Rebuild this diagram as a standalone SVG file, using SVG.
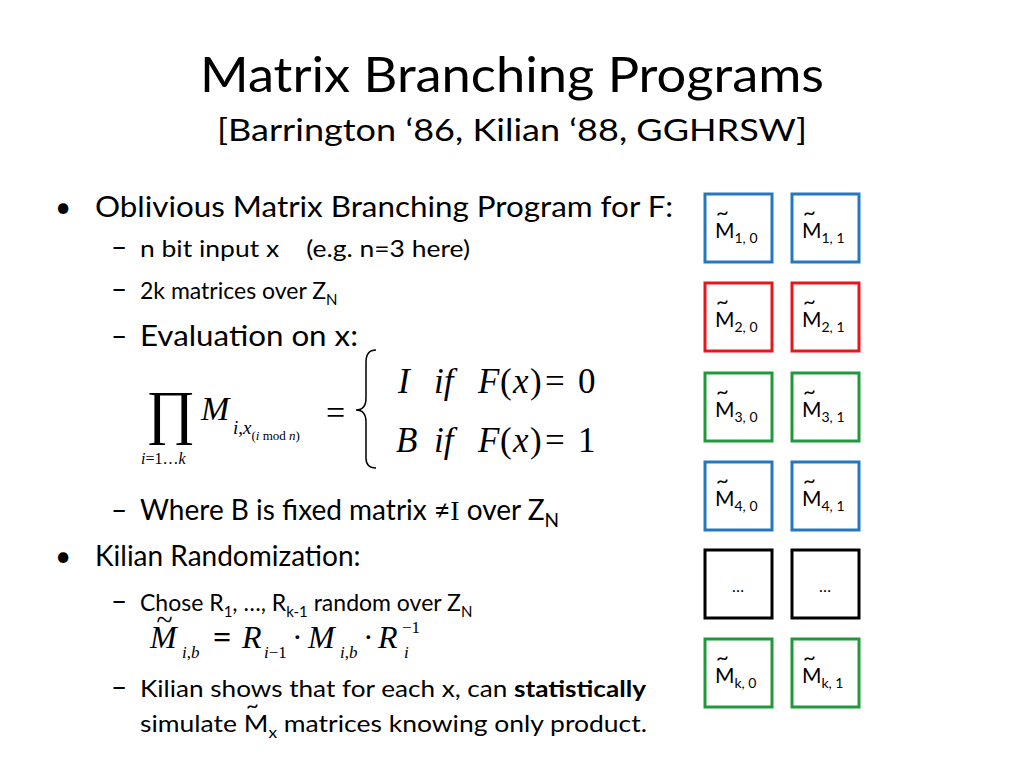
<svg xmlns="http://www.w3.org/2000/svg" width="1024" height="768" viewBox="0 0 1024 768">
<style>
text{font-family:Lato,"Liberation Sans",sans-serif;fill:#000}
.b{font-size:28px}
.s{font-size:23px}
.m{font-family:"Liberation Serif",serif;font-style:italic}
.r{font-family:"Liberation Serif",serif}
.bx{fill:#fff;stroke-width:3}
.lb{font-size:21px}
.sub{font-size:14px}
.t{font-size:22px}
</style>
<rect width="1024" height="768" fill="#fff"/>
<text x="512" y="92" font-size="48" text-anchor="middle" textLength="624" lengthAdjust="spacingAndGlyphs">Matrix Branching Programs</text>
<text x="512" y="141" font-size="31" text-anchor="middle" textLength="590" lengthAdjust="spacingAndGlyphs">[Barrington ‘86, Kilian ‘88, GGHRSW]</text>

<text x="55" y="217" class="b">•</text>
<text x="95" y="217" class="b" textLength="578" lengthAdjust="spacingAndGlyphs">Oblivious Matrix Branching Program for F:</text>
<text x="111" y="257" class="b">–</text>
<text x="140" y="257" class="s" textLength="330" lengthAdjust="spacingAndGlyphs" xml:space="preserve">n bit input x    (e.g. n=3 here)</text>
<text x="111" y="299" class="b">–</text>
<text x="140" y="299" class="s">2k matrices over Z<tspan font-size="15" dy="6">N</tspan></text>
<text x="111" y="346" class="b">–</text>
<text x="140" y="346" class="b" textLength="218" lengthAdjust="spacingAndGlyphs">Evaluation on x:</text>

<text x="146" y="432" class="r" font-size="60">∏</text>
<text x="141" y="464" class="m" font-size="16">i<tspan class="r" font-style="normal">=1…</tspan>k</text>
<text x="201" y="420" class="m" font-size="34">M</text>
<text x="233" y="434" class="m" font-size="19">i<tspan class="r" font-style="normal">,</tspan>x<tspan font-size="13" dy="6" class="r" font-style="normal">(</tspan><tspan font-size="13">i</tspan><tspan font-size="13" class="r" font-style="normal" xml:space="preserve"> mod </tspan><tspan font-size="13">n</tspan><tspan font-size="13" class="r" font-style="normal">)</tspan></text>
<text x="326" y="424" class="r" font-size="34">=</text>
<path d="M376 350 Q366 350 366 362 L366 398 Q366 410 356 410 Q366 410 366 422 L366 458 Q366 468 376 468" fill="none" stroke="#000" stroke-width="1.5"/>
<g font-size="35">
<text x="398" y="393" class="m">I</text><text x="434" y="393" class="m">if</text><text x="478" y="393" class="m">F</text><text x="500" y="393" class="r">(</text><text x="513" y="393" class="m">x</text><text x="530" y="393" class="r">)</text><text x="545" y="393" class="r">=</text><text x="578" y="393" class="r">0</text>
<text x="396" y="452" class="m">B</text><text x="434" y="452" class="m">if</text><text x="478" y="452" class="m">F</text><text x="500" y="452" class="r">(</text><text x="513" y="452" class="m">x</text><text x="530" y="452" class="r">)</text><text x="545" y="452" class="r">=</text><text x="578" y="452" class="r">1</text>
</g>

<text x="111" y="520" class="b">–</text>
<text x="140" y="520" class="b">Where B is fixed matrix ≠<tspan class="r">I</tspan> over Z<tspan font-size="19" dy="7">N</tspan></text>
<text x="55" y="566" class="b">•</text>
<text x="95" y="566" class="b">Kilian Randomization:</text>
<text x="111" y="611" class="b">–</text>
<text x="140" y="611" class="s">Chose R<tspan font-size="15" dy="6">1</tspan><tspan dy="-6">, …, R</tspan><tspan font-size="15" dy="6">k-1</tspan><tspan dy="-6"> random over Z</tspan><tspan font-size="15" dy="6">N</tspan></text>
<text x="156" y="630" class="m" font-size="30">~</text>
<text x="150" y="648" class="m" font-size="32">M</text>
<text x="182" y="658" class="m" font-size="17">i<tspan class="r" font-style="normal">,</tspan>b</text>
<text x="213" y="648" class="r" font-size="32" font-weight="bold">=</text>
<text x="242" y="648" class="m" font-size="32">R</text>
<text x="264" y="658" class="m" font-size="17">i<tspan class="r" font-style="normal">−1</tspan></text>
<text x="292" y="648" class="r" font-size="32">·</text>
<text x="308" y="648" class="m" font-size="32">M</text>
<text x="340" y="658" class="m" font-size="17">i<tspan class="r" font-style="normal">,</tspan>b</text>
<text x="363" y="648" class="r" font-size="32">·</text>
<text x="378" y="648" class="m" font-size="32">R</text>
<text x="402" y="633" class="r" font-size="17">−1</text>
<text x="404" y="658" class="m" font-size="17">i</text>
<text x="111" y="697" class="b">–</text>
<text x="140" y="697" class="s" textLength="506" lengthAdjust="spacingAndGlyphs">Kilian shows that for each x, can <tspan font-weight="bold">statistically</tspan></text>
<text x="140" y="732" class="s" textLength="507" lengthAdjust="spacingAndGlyphs">simulate M<tspan font-size="15" dy="6">x</tspan><tspan dy="-6"> matrices knowing only product.</tspan></text>
<text x="246" y="713" class="t">~</text>

<g id="n10"><rect class="bx" x="705" y="194" width="67" height="68" stroke="#2478C0"/><text class="lb" x="715" y="238">M<tspan class="sub" dy="5">1, 0</tspan></text><text class="t" x="716" y="220">~</text></g>
<g id="n11"><rect class="bx" x="792" y="194" width="67" height="68" stroke="#2478C0"/><text class="lb" x="802" y="238">M<tspan class="sub" dy="5">1, 1</tspan></text><text class="t" x="803" y="220">~</text></g>
<g id="n20"><rect class="bx" x="705" y="283" width="67" height="68" stroke="#E8161A"/><text class="lb" x="715" y="327">M<tspan class="sub" dy="5">2, 0</tspan></text><text class="t" x="716" y="309">~</text></g>
<g id="n21"><rect class="bx" x="792" y="283" width="67" height="68" stroke="#E8161A"/><text class="lb" x="802" y="327">M<tspan class="sub" dy="5">2, 1</tspan></text><text class="t" x="803" y="309">~</text></g>
<g id="n30"><rect class="bx" x="705" y="373" width="67" height="68" stroke="#1E9A3A"/><text class="lb" x="715" y="417">M<tspan class="sub" dy="5">3, 0</tspan></text><text class="t" x="716" y="399">~</text></g>
<g id="n31"><rect class="bx" x="792" y="373" width="67" height="68" stroke="#1E9A3A"/><text class="lb" x="802" y="417">M<tspan class="sub" dy="5">3, 1</tspan></text><text class="t" x="803" y="399">~</text></g>
<g id="n40"><rect class="bx" x="705" y="462" width="67" height="68" stroke="#2478C0"/><text class="lb" x="715" y="506">M<tspan class="sub" dy="5">4, 0</tspan></text><text class="t" x="716" y="488">~</text></g>
<g id="n41"><rect class="bx" x="792" y="462" width="67" height="68" stroke="#2478C0"/><text class="lb" x="802" y="506">M<tspan class="sub" dy="5">4, 1</tspan></text><text class="t" x="803" y="488">~</text></g>
<g id="nd0"><rect class="bx" x="705" y="550" width="67" height="68" stroke="#000"/><text x="738" y="592" text-anchor="middle" font-size="16">…</text></g>
<g id="nd1"><rect class="bx" x="792" y="550" width="67" height="68" stroke="#000"/><text x="825" y="592" text-anchor="middle" font-size="16">…</text></g>
<g id="nk0"><rect class="bx" x="705" y="639" width="67" height="68" stroke="#1E9A3A"/><text class="lb" x="715" y="683">M<tspan class="sub" dy="5">k, 0</tspan></text><text class="t" x="716" y="665">~</text></g>
<g id="nk1"><rect class="bx" x="792" y="639" width="67" height="68" stroke="#1E9A3A"/><text class="lb" x="802" y="683">M<tspan class="sub" dy="5">k, 1</tspan></text><text class="t" x="803" y="665">~</text></g>
<g id="connectors"/>
</svg>
